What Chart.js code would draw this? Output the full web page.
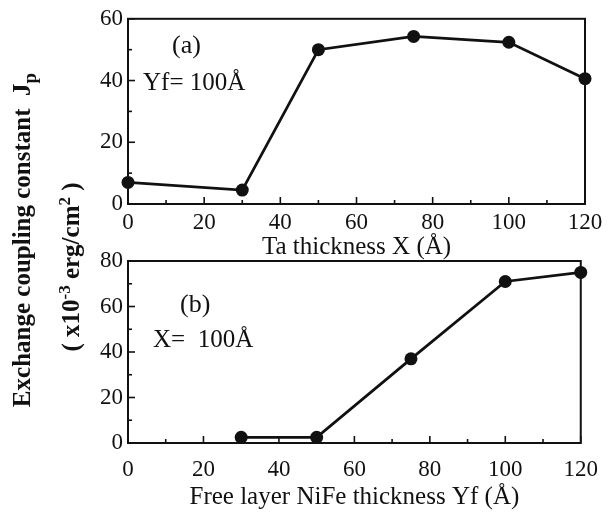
<!DOCTYPE html>
<html>
<head>
<meta charset="utf-8">
<script src="https://cdn.jsdelivr.net/npm/chart.js@4"></script>
<style>
  html, body { margin: 0; padding: 0; background: #fff; }
  #wrap { position: relative; width: 611px; height: 515px; overflow: hidden; font-family: 'Liberation Serif', 'DejaVu Serif', serif; color: #111; }
  canvas { position: absolute; }
  .lbl { position: absolute; white-space: nowrap; }
  .ylab { position: absolute; white-space: nowrap; font-weight: bold; font-size: 25px; transform: translate(-50%, -50%) rotate(-90deg); }
  .ylab sup { font-size: 17px; }
  .ylab sub { font-size: 19px; }
</style>
</head>
<body>
<div id="wrap">
  <canvas id="chartA"></canvas>
  <canvas id="chartB"></canvas>
  <div class="ylab" style="left:24px; top:240px;">Exchange coupling constant&nbsp; J<sub>p</sub></div>
  <div class="ylab" style="left:70px; top:267px;">( x10<sup>-3</sup> erg/cm<sup>2</sup> )</div>
  <div class="lbl" style="left:172px; top:30px; font-size:26px;">(a)</div>
  <div class="lbl" style="left:143px; top:68px; font-size:25px;">Yf= 100Å</div>
  <div class="lbl" style="left:180px; top:289px; font-size:26px;">(b)</div>
  <div class="lbl" style="left:153px; top:325px; font-size:25px;">X=&nbsp; 100Å</div>
</div>
<script>
// (a) coupling vs Ta thickness, Yf = 100 A
const taThickness = [0, 30, 50, 75, 100, 120];
const couplingA = [7, 4.5, 50, 54.3, 52.4, 40.6];
// (b) coupling vs free layer NiFe thickness, X = 100 A
const freeLayerYf = [30, 50, 75, 100, 120];
const couplingB = [2.5, 2.5, 37, 71, 75];

const xTicks = [0, 20, 40, 60, 80, 100, 120];
const yTicksA = [0, 20, 40, 60];
const yTicksB = [0, 20, 40, 60, 80];

const FONT = "'Liberation Serif', 'DejaVu Serif', serif";
const INK = '#111';

// frame + inward ticks (major every 20, minor every 10)
const framePlugin = {
  id: 'frame',
  afterDatasetsDraw(chart) {
    const { ctx, chartArea: a, scales: { x, y } } = chart;
    ctx.save();
    ctx.strokeStyle = INK;
    ctx.lineWidth = 2;
    ctx.strokeRect(a.left, a.top, a.right - a.left, a.bottom - a.top);
    ctx.lineWidth = 1.6;
    for (let v = x.min; v <= x.max; v += 10) {
      const px = x.getPixelForValue(v);
      const len = v % 20 === 0 ? 7 : 4;
      ctx.beginPath(); ctx.moveTo(px, a.bottom); ctx.lineTo(px, a.bottom - len); ctx.stroke();
    }
    for (let v = y.min; v <= y.max; v += 10) {
      const py = y.getPixelForValue(v);
      const len = v % 20 === 0 ? 7 : 4;
      ctx.beginPath(); ctx.moveTo(a.left, py); ctx.lineTo(a.left + len, py); ctx.stroke();
    }
    ctx.restore();
  }
};

function makeChart(id, xs, ys, yMax, yTicks, title, box) {
  const cv = document.getElementById(id);
  cv.style.left = box.left + 'px';
  cv.style.top = box.top + 'px';
  cv.width = box.width; cv.height = box.height;
  cv.style.width = box.width + 'px'; cv.style.height = box.height + 'px';
  return new Chart(cv, {
    type: 'line',
    data: {
      datasets: [{
        data: xs.map((v, i) => ({ x: v, y: ys[i] })),
        borderColor: INK,
        backgroundColor: INK,
        borderWidth: 2.8,
        pointRadius: 6.5,
        pointHoverRadius: 6.5,
        pointBackgroundColor: INK,
        pointBorderWidth: 0,
        tension: 0,
        clip: false
      }]
    },
    options: {
      responsive: false,
      animation: false,
      events: [],
      layout: { padding: box.pad },
      plugins: { legend: { display: false }, tooltip: { enabled: false } },
      scales: {
        x: {
          type: 'linear', min: 0, max: 120,
          afterBuildTicks: s => { s.ticks = xTicks.map(v => ({ value: v })); },
          afterFit: s => { s.height = box.xHeight; },
          grid: { display: false, drawTicks: false },
          border: { display: false },
          ticks: { color: INK, padding: box.tickPad, maxRotation: 0, font: { family: FONT, size: 23 } },
          title: { display: true, text: title, color: INK, padding: { top: 0, bottom: box.titlePad }, font: { family: FONT, size: 25 } }
        },
        y: {
          type: 'linear', min: 0, max: yMax,
          afterBuildTicks: s => { s.ticks = yTicks.map(v => ({ value: v })); },
          afterFit: s => { s.width = 128 - box.left; },
          grid: { display: false, drawTicks: false },
          border: { display: false },
          ticks: { color: INK, padding: 5, font: { family: FONT, size: 23 } }
        }
      }
    },
    plugins: [framePlugin]
  });
}

makeChart('chartA', taThickness, couplingA, 60, yTicksA, 'Ta thickness X (Å)',
  { left: 0, top: 0, width: 611, height: 262, pad: { top: 15, right: 26, left: 0, bottom: 0 }, xHeight: 58, tickPad: 5, titlePad: 0 });
makeChart('chartB', freeLayerYf, couplingB, 80, yTicksB, 'Free layer NiFe thickness Yf (Å)',
  { left: 0, top: 240, width: 611, height: 275, pad: { top: 21, right: 27, left: 0, bottom: 0 }, xHeight: 72, tickPad: 13, titlePad: 3 });
</script>
</body>
</html>
